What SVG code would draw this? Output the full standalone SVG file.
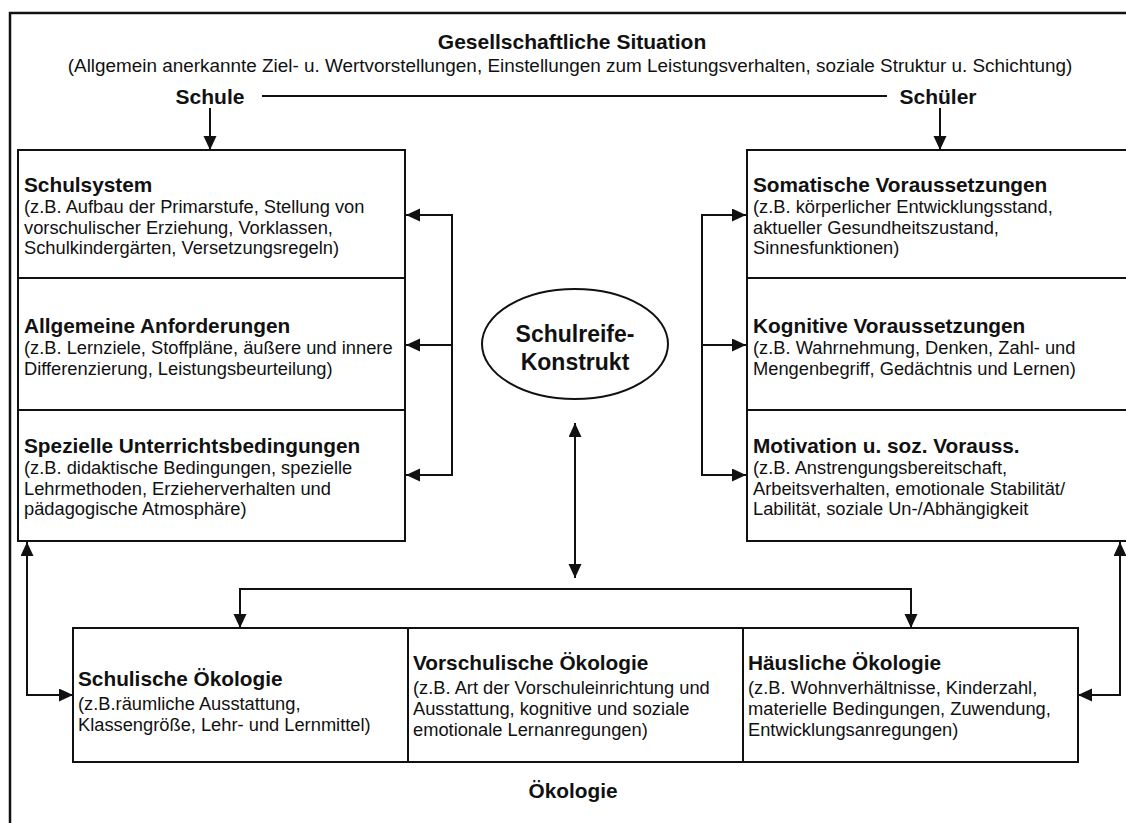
<svg xmlns="http://www.w3.org/2000/svg" width="1126" height="823" viewBox="0 0 1126 823">
  <style>
    text { font-family: "Liberation Sans", Arial, Helvetica, sans-serif; fill: #111; }
    .h { font-weight: bold; font-size: 21px; }
    .t { font-weight: bold; font-size: 20.8px; }
    .b { font-size: 18.3px; }
    .box { fill: #fff; stroke: #111; stroke-width: 2; }
    .ln { fill: none; stroke: #111; stroke-width: 2; }
    .arr { fill: none; stroke: #111; stroke-width: 2; marker-end: url(#ah); }
    .arr2 { fill: none; stroke: #111; stroke-width: 2; marker-start: url(#ah); marker-end: url(#ah); }
  </style>
  <defs>
    <marker id="ah" markerUnits="userSpaceOnUse" markerWidth="15" markerHeight="14" refX="14" refY="6.5" orient="auto-start-reverse">
      <path d="M0,0 L14,6.5 L0,13 z" fill="#111"/>
    </marker>
  </defs>

  <rect width="1126" height="823" fill="#fff"/>
  <!-- outer frame, open to the right and bottom -->
  <rect x="10" y="13" width="1140" height="840" fill="none" stroke="#111" stroke-width="2.5"/>

  <!-- society header -->
  <g id="gesellschaft">
    <text class="h" x="572" y="49" text-anchor="middle">Gesellschaftliche Situation</text>
    <text x="570" y="72" text-anchor="middle" font-size="18.9px">(Allgemein anerkannte Ziel- u. Wertvorstellungen, Einstellungen zum Leistungsverhalten, soziale Struktur u. Schichtung)</text>
  </g>
  <g id="schule"><text class="h" x="210" y="104" text-anchor="middle">Schule</text></g>
  <g id="schueler"><text class="h" x="938" y="104" text-anchor="middle">Schüler</text></g>

  <!-- school side -->
  <g id="schulsystem">
    <rect class="box" x="18" y="150" width="387" height="128"/>
    <text x="24" y="192"><tspan class="t">Schulsystem</tspan><tspan class="b" x="24" dy="21">(z.B. Aufbau der Primarstufe, Stellung von</tspan><tspan class="b" x="24" dy="20.5">vorschulischer Erziehung, Vorklassen,</tspan><tspan class="b" x="24" dy="20.5">Schulkindergärten, Versetzungsregeln)</tspan></text>
  </g>
  <g id="anforderungen">
    <rect class="box" x="18" y="278" width="387" height="132"/>
    <text x="24" y="333"><tspan class="t">Allgemeine Anforderungen</tspan><tspan class="b" x="24" dy="21">(z.B. Lernziele, Stoffpläne, äußere und innere</tspan><tspan class="b" x="24" dy="20.5">Differenzierung, Leistungsbeurteilung)</tspan></text>
  </g>
  <g id="unterricht">
    <rect class="box" x="18" y="410" width="387" height="131"/>
    <text x="24" y="453"><tspan class="t">Spezielle Unterrichtsbedingungen</tspan><tspan class="b" x="24" dy="21">(z.B. didaktische Bedingungen, spezielle</tspan><tspan class="b" x="24" dy="20.5">Lehrmethoden, Erzieherverhalten und</tspan><tspan class="b" x="24" dy="20.5">pädagogische Atmosphäre)</tspan></text>
  </g>

  <!-- pupil side -->
  <g id="somatisch">
    <rect class="box" x="747" y="150" width="400" height="128"/>
    <text x="753" y="192"><tspan class="t">Somatische Voraussetzungen</tspan><tspan class="b" x="753" dy="21">(z.B. körperlicher Entwicklungsstand,</tspan><tspan class="b" x="753" dy="20.5">aktueller Gesundheitszustand,</tspan><tspan class="b" x="753" dy="20.5">Sinnesfunktionen)</tspan></text>
  </g>
  <g id="kognitiv">
    <rect class="box" x="747" y="278" width="400" height="132"/>
    <text x="753" y="333"><tspan class="t">Kognitive Voraussetzungen</tspan><tspan class="b" x="753" dy="21">(z.B. Wahrnehmung, Denken, Zahl- und</tspan><tspan class="b" x="753" dy="20.5">Mengenbegriff, Gedächtnis und Lernen)</tspan></text>
  </g>
  <g id="motivation">
    <rect class="box" x="747" y="410" width="400" height="131"/>
    <text x="753" y="453"><tspan class="t">Motivation u. soz. Vorauss.</tspan><tspan class="b" x="753" dy="21">(z.B. Anstrengungsbereitschaft,</tspan><tspan class="b" x="753" dy="20.5">Arbeitsverhalten, emotionale Stabilität/</tspan><tspan class="b" x="753" dy="20.5">Labilität, soziale Un-/Abhängigkeit</tspan></text>
  </g>

  <!-- central construct -->
  <g id="schulreife">
    <ellipse cx="575" cy="344" rx="93" ry="55" fill="#fff" stroke="#111" stroke-width="2"/>
    <text x="575" y="342" text-anchor="middle" font-weight="bold" font-size="23px">Schulreife-</text>
    <text x="575" y="370" text-anchor="middle" font-weight="bold" font-size="23px">Konstrukt</text>
  </g>

  <!-- ecology row -->
  <g id="schulische-oekologie">
    <rect class="box" x="73" y="628" width="335" height="134"/>
    <text x="78" y="686"><tspan class="t">Schulische Ökologie</tspan><tspan class="b" x="78" dy="24">(z.B.räumliche Ausstattung,</tspan><tspan class="b" x="78" dy="21">Klassengröße, Lehr- und Lernmittel)</tspan></text>
  </g>
  <g id="vorschulische-oekologie">
    <rect class="box" x="408" y="628" width="335" height="134"/>
    <text x="413" y="670"><tspan class="t">Vorschulische Ökologie</tspan><tspan class="b" x="413" dy="24">(z.B. Art der Vorschuleinrichtung und</tspan><tspan class="b" x="413" dy="21">Ausstattung, kognitive und soziale</tspan><tspan class="b" x="413" dy="21">emotionale Lernanregungen)</tspan></text>
  </g>
  <g id="haeusliche-oekologie">
    <rect class="box" x="743" y="628" width="335" height="134"/>
    <text x="748" y="670"><tspan class="t">Häusliche Ökologie</tspan><tspan class="b" x="748" dy="24">(z.B. Wohnverhältnisse, Kinderzahl,</tspan><tspan class="b" x="748" dy="21">materielle Bedingungen, Zuwendung,</tspan><tspan class="b" x="748" dy="21">Entwicklungsanregungen)</tspan></text>
  </g>
  <g id="oekologie"><text class="t" x="573" y="798" text-anchor="middle">Ökologie</text></g>

  <!-- connectors -->
  <g id="connectors">
    <line class="ln" x1="262" y1="96" x2="887" y2="96"/>
    <line class="arr" x1="210" y1="108" x2="210" y2="150"/>
    <line class="arr" x1="940" y1="108" x2="940" y2="150"/>

    <path class="ln" d="M452,215 V475"/>
    <line class="arr" x1="453" y1="215" x2="406" y2="215"/>
    <line class="arr" x1="453" y1="345" x2="406" y2="345"/>
    <line class="arr" x1="453" y1="475" x2="406" y2="475"/>

    <path class="ln" d="M702,215 V475"/>
    <line class="arr" x1="701" y1="215" x2="746" y2="215"/>
    <line class="arr" x1="701" y1="345" x2="746" y2="345"/>
    <line class="arr" x1="701" y1="475" x2="746" y2="475"/>

    <line class="arr2" x1="575" y1="423" x2="575" y2="578"/>
    <path class="arr2" d="M240,628 V589 H911 V628"/>
    <path class="arr2" d="M27,542 V695 H73"/>
    <path class="arr2" d="M1120,542 V695 H1078"/>
  </g>
</svg>
